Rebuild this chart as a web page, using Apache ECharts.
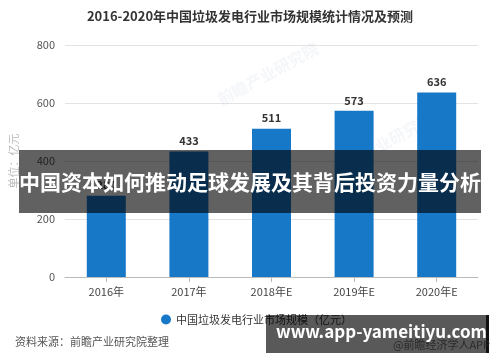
<!DOCTYPE html>
<html>
<head>
<meta charset="utf-8">
<script src="https://cdn.jsdelivr.net/npm/echarts@6/dist/echarts.min.js"></script>
<style>html,body{margin:0;padding:0;background:#fff;}#c{width:500px;height:362px;}</style>
</head>
<body>
<div id="c"></div>
<script>
const categories = ['2016年', '2017年', '2018年E', '2019年E', '2020年E'];
const marketSize = [280, 433, 511, 573, 636];
const yTicks = [0, 200, 400, 600, 800];
const seriesName = '中国垃圾发电行业市场规模（亿元）';
const titleText = '2016-2020年中国垃圾发电行业市场规模统计情况及预测';
const sourceText = '资料来源：前瞻产业研究院整理';
const bannerText = '中国资本如何推动足球发展及其背后投资力量分析';
const siteText = 'www.app-yameitiyu.com';

const font = '"Noto Sans CJK SC", "Noto Sans", sans-serif';
const chart = echarts.init(document.getElementById('c'), null, {renderer: 'canvas'});
chart.setOption({
  animation: false,
  backgroundColor: '#fff',
  textStyle: {fontFamily: font},
  title: {
    text: titleText, left: 'center', top: 5,
    textStyle: {fontSize: 13, fontWeight: 'bold', color: '#333', fontFamily: font}
  },
  legend: {
    data: [seriesName], left: 156, top: 309, icon: 'circle', itemWidth: 10, itemHeight: 10,
    textStyle: {fontSize: 11, color: '#333', fontFamily: font}
  },
  grid: {left: 65, right: 22, top: 45, bottom: 85},
  xAxis: {
    type: 'category', data: categories,
    axisLine: {lineStyle: {color: '#bbb'}},
    axisTick: {show: true, alignWithLabel: true, lineStyle: {color: '#bbb'}},
    axisLabel: {color: '#444', fontSize: 11, margin: 9, fontFamily: font}
  },
  yAxis: {
    type: 'value', min: yTicks[0], max: yTicks[yTicks.length - 1], interval: 200,
    name: '单位：亿元', nameLocation: 'middle', nameRotate: 90, nameGap: 46,
    nameTextStyle: {color: '#bbb', fontSize: 11, fontFamily: font},
    axisLine: {show: false}, axisTick: {show: false},
    axisLabel: {color: '#555', fontSize: 11, margin: 10, fontFamily: font},
    splitLine: {lineStyle: {color: '#e3e3e3'}}
  },
  series: [{
    name: seriesName, type: 'bar', data: marketSize, barWidth: 39,
    itemStyle: {color: '#1878c8'},
    label: {show: true, position: 'top', color: '#333', fontWeight: 'bold', fontSize: 11, fontFamily: font}
  }],
  graphic: [
    {type: 'text', left: 215, top: 40, rotation: 0.5, z: 1, style: {text: '前瞻产业研究院', fill: 'rgba(150,170,200,0.1)', font: 'bold 16px ' + font}},
    {type: 'text', left: 330, top: 110, rotation: 0.5, z: 1, style: {text: '前瞻产业研究院', fill: 'rgba(150,170,200,0.1)', font: 'bold 16px ' + font}},
    {type: 'rect', z: 100, shape: {x: 19, y: 150, width: 462, height: 63}, style: {fill: 'rgba(0,0,0,0.62)'}},
    {type: 'text', z: 101, left: 'center', top: 172, style: {text: bannerText, fill: '#fff', font: 'bold 21px ' + font}},
    {type: 'text', z: 99, left: 15, top: 336, style: {text: sourceText, fill: '#555', font: '11px ' + font}},
    {type: 'rect', z: 100, shape: {x: 266, y: 315, width: 222, height: 38}, style: {fill: 'rgba(0,0,0,0.65)'}},
    {type: 'rect', z: 101, shape: {x: 486, y: 315, width: 3, height: 38}, style: {fill: '#111'}},
    {type: 'text', z: 101, left: 393, top: 339, style: {text: '@前瞻经济学人APP', fill: '#2a2a2a', font: '11px ' + font}},
    {type: 'text', z: 102, left: 276, top: 323, style: {text: siteText, fill: '#fff', font: 'bold 17px ' + font}}
  ]
});
</script>
</body>
</html>
